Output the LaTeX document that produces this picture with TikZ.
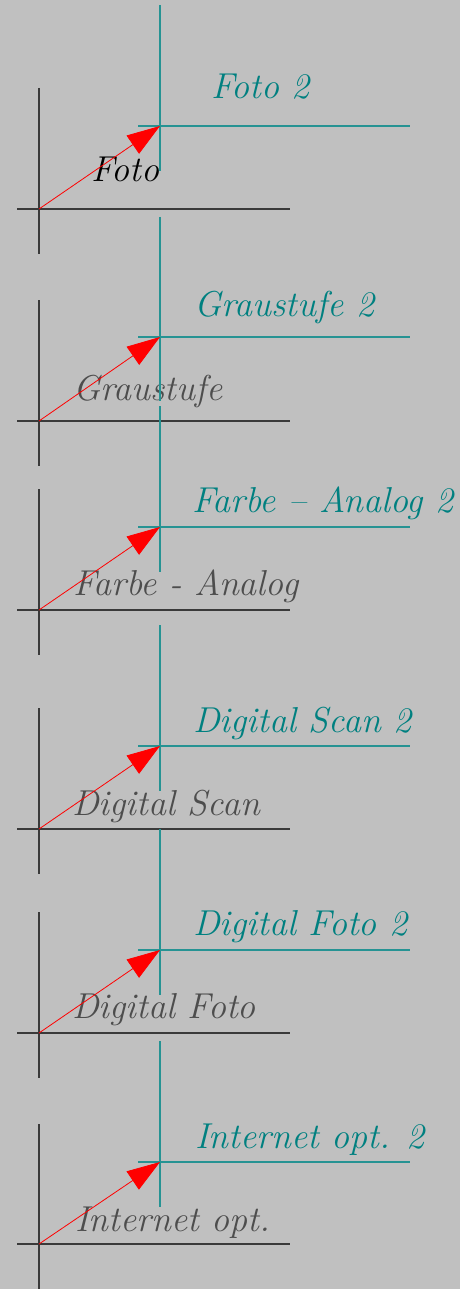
\documentclass[tikz,border=0pt]{standalone}
\usepackage{tikz}
\usetikzlibrary{arrows.meta}
\usepackage{xcolor}
\definecolor{bggray}{HTML}{C0C0C0}
\definecolor{tealc}{HTML}{008080}
\definecolor{axisc}{HTML}{3A3A3A}
\definecolor{labelc}{HTML}{4D4D4D}

\begin{document}
\begin{tikzpicture}[x=1pt, y=-1pt,
    axis/.style={axisc, line width=1.2pt},
    axistwo/.style={tealc!85!white, line width=1.2pt},
    vec/.style={red, line width=0.8pt, -{Triangle[length=33pt, width=22pt]}},
    lbl/.style={anchor=base west, inner sep=0pt, labelc,
        font=\fontsize{36}{42}\selectfont\itshape},
    lbltwo/.style={lbl, tealc}]
    % Hintergrund
    \fill[bggray] (0,0) rectangle (460,1289);
    \useasboundingbox (0,0) rectangle (460,1289);
    % Ursprünge
    \coordinate (o1) at (39,209);    \coordinate (t1) at (160,126);
    \coordinate (o2) at (39,421);    \coordinate (t2) at (160,337);
    \coordinate (o3) at (39,610);    \coordinate (t3) at (160,527);
    \coordinate (o4) at (39,829);    \coordinate (t4) at (160,746);
    \coordinate (o5) at (39,1033);   \coordinate (t5) at (160,950);
    \coordinate (o6) at (39,1244);   \coordinate (t6) at (160,1162);
    % Beschriftungen
    \node[lbl, black] (foto) at (91,182) {Foto};
    \node[lbltwo] (foto2) at (211,99) {Foto 2};
    \node[lbl] (grau) at (73,400) {Graustufe};
    \node[lbltwo] (grau2) at (194,316) {Graustufe 2};
    \node[lbl] (farbe) at (73,595) {Farbe - Analog};
    \node[lbltwo] (farbe2) at (192,512) {Farbe -- Analog 2};
    \node[lbl] (scan) at (72,815) {Digital Scan};
    \node[lbltwo] (scan2) at (193,732) {Digital Scan 2};
    \node[lbl] (dfoto) at (72,1018) {Digital Foto};
    \node[lbltwo] (dfoto2) at (193,935) {Digital Foto 2};
    \node[lbl] (inet) at (75,1231) {Internet opt.};
    \node[lbltwo] (inet2) at (195,1148) {Internet opt. 2};
    % Achsen schwarz
    \draw[axis] (o1) ++(-22,0) -- ++(273,0);  \draw[axis] (o1) ++(0,-121) -- ++(0,166);
    \draw[axis] (o2) ++(-22,0) -- ++(273,0);  \draw[axis] (o2) ++(0,-121) -- ++(0,166);
    \draw[axis] (o3) ++(-22,0) -- ++(273,0);  \draw[axis] (o3) ++(0,-121) -- ++(0,166);
    \draw[axis] (o4) ++(-22,0) -- ++(273,0);  \draw[axis] (o4) ++(0,-121) -- ++(0,166);
    \draw[axis] (o5) ++(-22,0) -- ++(273,0);  \draw[axis] (o5) ++(0,-121) -- ++(0,166);
    \draw[axis] (o6) ++(-22,0) -- ++(273,0);  \draw[axis] (o6) ++(0,-120) -- ++(0,166);
    % Achsen teal
    \draw[axistwo] (t1) ++(-22,0) -- ++(272,0);  \draw[axistwo] (t1) ++(0,-121) -- ++(0,166);
    \draw[axistwo] (t2) ++(-22,0) -- ++(272,0);  \draw[axistwo] (t2) ++(0,-120) -- ++(0,184);
    \draw[axistwo] (t3) ++(-22,0) -- ++(272,0);  \draw[axistwo] (t3) ++(0,-121) -- ++(0,166);
    \draw[axistwo] (t4) ++(-22,0) -- ++(272,0);  \draw[axistwo] (t4) ++(0,-121) -- ++(0,166);
    \draw[axistwo] (t5) ++(-22,0) -- ++(272,0);  \draw[axistwo] (t5) ++(0,-121) -- ++(0,166);
    \draw[axistwo] (t6) ++(-22,0) -- ++(272,0);  \draw[axistwo] (t6) ++(0,-121) -- ++(0,166);
    % Vektoren
    \draw[vec] (o1) -- (t1);
    \draw[vec] (o2) -- (t2);
    \draw[vec] (o3) -- (t3);
    \draw[vec] (o4) -- (t4);
    \draw[vec] (o5) -- (t5);
    \draw[vec] (o6) -- (t6);
\end{tikzpicture}
\end{document}
